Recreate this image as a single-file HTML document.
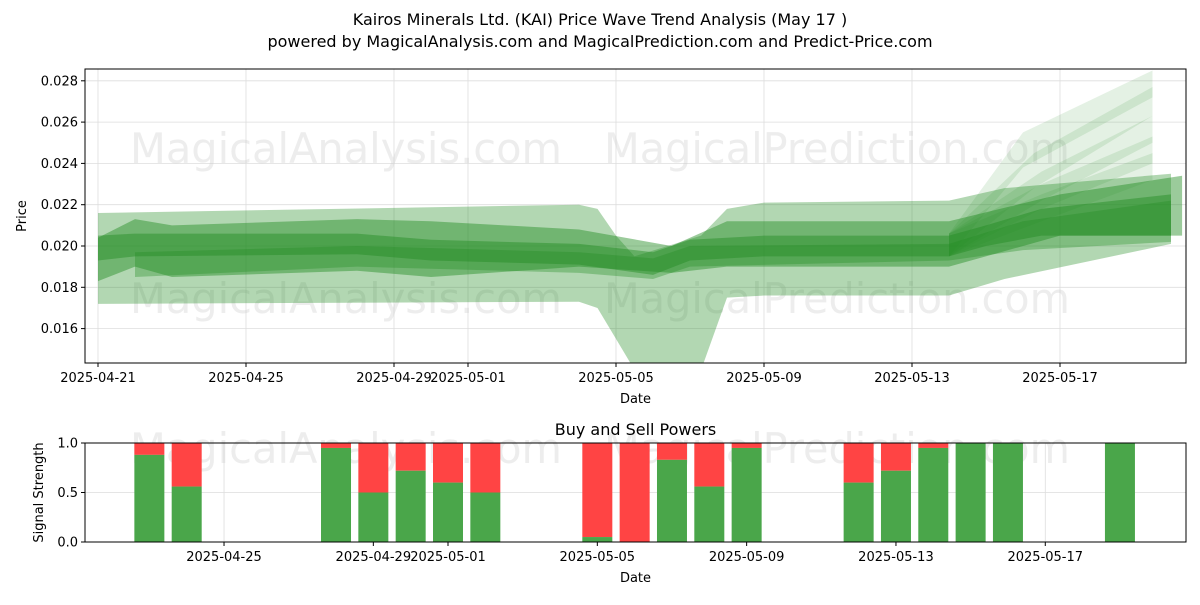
<!DOCTYPE html>
<html><head><meta charset="utf-8"><style>
body{margin:0;background:#fff}
text{font-family:"DejaVu Sans","Liberation Sans",sans-serif}
</style></head><body>
<svg id="s" width="1200" height="600" xmlns="http://www.w3.org/2000/svg">
<text x="600" y="25" text-anchor="middle" font-size="16">Kairos Minerals Ltd. (KAI) Price Wave Trend Analysis (May 17 )</text>
<text x="600" y="47" text-anchor="middle" font-size="16">powered by MagicalAnalysis.com and MagicalPrediction.com and Predict-Price.com</text>
<g id="main"></g>
<g id="sub"></g>
</svg>
<script>
// ---- price chart data ----
const mainTickDays=[0,4,8,10,14,18,22,26];
const mainTickLabels=["2025-04-21","2025-04-25","2025-04-29","2025-05-01","2025-05-05","2025-05-09","2025-05-13","2025-05-17"];
const yTicks=[0.016,0.018,0.020,0.022,0.024,0.026,0.028];
const bandWide=[[0,0.0172,0.0216],[13,0.0173,0.0220],[13.5,0.0170,0.0218],[14,0.0155,0.0205],[14.5,0.0140,0.0195],[16.3,0.0140,0.0205],[17,0.0175,0.0218],[18,0.0176,0.0221],[23,0.0176,0.0222],[24.5,0.0184,0.0228],[29,0.0201,0.0235]];
const bandMid=[[0,0.0183,0.0204],[1,0.0190,0.0213],[2,0.0185,0.0210],[7,0.0188,0.0213],[9,0.0185,0.0212],[13,0.0190,0.0208],[15.5,0.0187,0.0200],[17,0.0190,0.0212],[23,0.0190,0.0212],[26,0.0205,0.0225],[29.3,0.0205,0.0234]];
const bandCore1=[[0,0.0193,0.0205],[1,0.0195,0.0206],[7,0.0196,0.0206],[9,0.0193,0.0203],[13,0.0191,0.0201],[15,0.0186,0.0197],[16,0.0193,0.0203],[18,0.0195,0.0205],[23,0.0195,0.0205],[24,0.0200,0.0210],[25.5,0.0205,0.0218],[29,0.0205,0.0225]];
const bandCore2=[[1,0.0185,0.0197],[7,0.0190,0.0200],[13,0.0187,0.0197],[15,0.0184,0.0194],[16,0.0190,0.0200],[23,0.0193,0.0201],[25,0.0198,0.0212],[29,0.0202,0.0222]];
const fan1=[[23,0.0195,0.0206],[25,0.0238,0.0255],[28.5,0.0272,0.0285]];
const fan2=[[23,0.0195,0.0206],[25.3,0.0228,0.0245],[28.5,0.0263,0.0277]];
const fan3=[[23,0.0195,0.0206],[25.5,0.0222,0.0236],[28.5,0.0250,0.0263]];
const fan4=[[23,0.0195,0.0206],[25.5,0.0218,0.0230],[28.5,0.0240,0.0253]];
const fan5=[[23,0.0195,0.0206],[25.5,0.0212,0.0225],[28.5,0.0232,0.0245]];
// ---- signal chart data (days since 2025-04-21) ----
const barDays=[2,3,7,8,9,10,11,14,15,16,17,18,21,22,23,24,25,28];
const buyVals=[0.88,0.56,0.95,0.5,0.72,0.6,0.5,0.05,0.0,0.83,0.56,0.95,0.6,0.72,0.95,1,1,1];
const subTickLabels=["2025-04-25","2025-04-29","2025-05-01","2025-05-05","2025-05-09","2025-05-13","2025-05-17"];
const subTickDays=[4,8,10,14,18,22,26];

const NS="http://www.w3.org/2000/svg";
function mk(p,t,a,txt){const e=document.createElementNS(NS,t);for(const k in a)e.setAttribute(k,a[k]);if(txt!==undefined)e.textContent=txt;p.appendChild(e);return e;}
const M=document.getElementById('main'),S=document.getElementById('sub');
const L=85,R=1186,T=69,B=363;
const xm=d=>98+37*d, ym=v=>246-(v-0.02)*20650;
mainTickDays.forEach((d,i)=>{
 const g=mk(M,'line',{x1:xm(d),x2:xm(d),y1:T,y2:B,stroke:'#ddd','stroke-width':0.8});
 
 mk(M,'line',{x1:xm(d),x2:xm(d),y1:B,y2:B+4,stroke:'#000'});
 const t=mk(M,'text',{x:xm(d),y:B+19,'text-anchor':'middle','font-size':13},mainTickLabels[i]);
 
});
yTicks.forEach(v=>{
 const g=mk(M,'line',{x1:L,x2:R,y1:ym(v),y2:ym(v),stroke:'#ddd','stroke-width':0.8});
 
 mk(M,'line',{x1:L-4,x2:L,y1:ym(v),y2:ym(v),stroke:'#000'});
 const t=mk(M,'text',{x:L-7,y:ym(v)+4.5,'text-anchor':'end','font-size':13},v.toFixed(3));
 
});
[[130,163,432],[604,163,466],[130,313,432],[604,313,466]].forEach((p,i)=>{
 const w=mk(M,'text',{x:p[0],y:p[1],'font-size':42,textLength:p[2],lengthAdjust:'spacingAndGlyphs',fill:'#ccc','fill-opacity':0.35},i%2?'MagicalPrediction.com':'MagicalAnalysis.com');
 
});
const clip=mk(M,'clipPath',{id:'cp'});mk(clip,'rect',{x:L,y:T,width:R-L,height:B-T});
const bg=mk(M,'g',{'clip-path':'url(#cp)'});
function band(arr,op,name){
 const up=arr.map(p=>xm(p[0])+','+ym(p[2])),lo=arr.slice().reverse().map(p=>xm(p[0])+','+ym(p[1]));
 const e=mk(bg,'polygon',{points:up.concat(lo).join(' '),fill:'#228B22','fill-opacity':op});
 
}
band(bandWide,0.35,'wave-band-wide');
band(bandMid,0.45,'wave-band-mid');
[fan1,fan2,fan3,fan4,fan5].forEach(f=>band(f,0.12,'forecast-fan-band'));
band(bandCore1,0.45,'wave-band-core');
band(bandCore2,0.35,'wave-band-core-2');
mk(M,'rect',{x:L,y:T,width:R-L,height:B-T,fill:'none',stroke:'#000','stroke-width':1});
let t=mk(M,'text',{x:(L+R)/2,y:403,'text-anchor':'middle','font-size':13},'Date');

t=mk(M,'text',{x:0,y:0,'text-anchor':'middle','font-size':13,transform:`translate(26,${(T+B)/2}) rotate(-90)`},'Price');


const ST=443,SB=542;
const xt=d=>74.7+37.33*d, yb=v=>SB-(SB-ST)*v;
subTickDays.forEach((d,i)=>{
 mk(S,'line',{x1:xt(d),x2:xt(d),y1:ST,y2:SB,stroke:'#ddd','stroke-width':0.8});
 mk(S,'line',{x1:xt(d),x2:xt(d),y1:SB,y2:SB+4,stroke:'#000'});
 const t=mk(S,'text',{x:xt(d),y:SB+19,'text-anchor':'middle','font-size':13},subTickLabels[i]);
 
});
[0,0.5,1].forEach(v=>{
 mk(S,'line',{x1:L,x2:R,y1:yb(v),y2:yb(v),stroke:'#ddd','stroke-width':0.8});
 mk(S,'line',{x1:L-4,x2:L,y1:yb(v),y2:yb(v),stroke:'#000'});
 const t=mk(S,'text',{x:L-7,y:yb(v)+4.5,'text-anchor':'end','font-size':13},v.toFixed(1));
 
});
[[130,463,432],[604,463,466]].forEach((p,i)=>{
 const w=mk(S,'text',{x:p[0],y:p[1],'font-size':42,textLength:p[2],lengthAdjust:'spacingAndGlyphs',fill:'#ccc','fill-opacity':0.35},i?'MagicalPrediction.com':'MagicalAnalysis.com');
 
});
barDays.forEach((d,i)=>{
 const v=buyVals[i],x=xt(d)-15;
 const r=mk(S,'rect',{x:x,y:yb(1),width:30,height:yb(v)-yb(1),fill:'#ff4444'});
 
 const g=mk(S,'rect',{x:x,y:yb(v),width:30,height:SB-yb(v),fill:'#4aa64a'});
 
});
mk(S,'rect',{x:L,y:ST,width:R-L,height:SB-ST,fill:'none',stroke:'#000','stroke-width':1});
t=mk(S,'text',{x:(L+R)/2,y:435,'text-anchor':'middle','font-size':16},'Buy and Sell Powers');

t=mk(S,'text',{x:(L+R)/2,y:582,'text-anchor':'middle','font-size':13},'Date');

t=mk(S,'text',{x:0,y:0,'text-anchor':'middle','font-size':13,transform:`translate(43,${(ST+SB)/2}) rotate(-90)`},'Signal Strength');

</script>
</body></html>
